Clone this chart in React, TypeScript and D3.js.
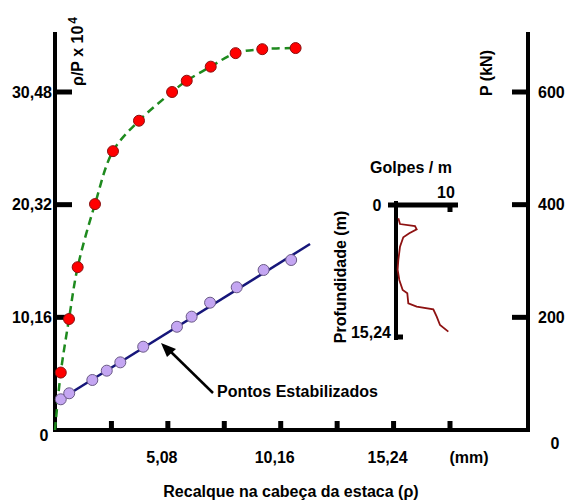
import React, { useEffect, useRef } from 'react';
import * as d3 from 'd3';

// settlement (mm) / load (kN) - curva carga x recalque
const loadSettle = [0.26, 0.63, 1.02, 1.8, 2.61, 3.78, 5.27, 5.93, 7.01, 8.13, 9.33, 10.83];
const loadValues = [102, 197, 289, 401, 495, 549, 600, 620, 645, 669, 676, 678];

// settlement (mm) / rho/P x 10^4 - pontos estabilizados
const chinSettle = [0.26, 0.64, 1.68, 2.33, 2.94, 3.97, 5.49, 6.15, 6.98, 8.18, 9.39, 10.63];
const chinValues = [2.77, 3.31, 4.51, 5.35, 6.1, 7.51, 9.31, 10.22, 11.48, 12.87, 14.43, 15.33];
const fitSettle = [0.05, 11.48];
const fitValues = [2.52, 16.77];

// SPT profile (inset)
const sptBlows = [0.43, 0.74, 3.52, 3.83, 2.46, 1.35, 0.74, 0.43, 0.3, 0.61, 1.24, 2.09, 2.28, 3.83, 6.91, 7.54, 8.15, 9.69];
const sptDepth = [1.52, 2.18, 2.41, 2.78, 3.24, 3.7, 4.78, 6.3, 7.4, 8.59, 9.74, 10.11, 11.26, 11.65, 11.95, 12.8, 13.75, 14.51];

const xTicks = [2.54, 5.08, 7.62, 10.16, 12.7, 15.24, 17.78];
const xTickLabels = ['', '5,08', '', '10,16', '', '15,24', '(mm)'];
const leftTicks = [10.16, 20.32, 30.48];
const leftTickLabels = ['10,16', '20,32', '30,48'];
const rightTicks = [200, 400, 600];

const W = 566;
const H = 502;
const FONT = '"Liberation Sans", Arial, sans-serif';

const App = () => {
  const svgRef = useRef<SVGSVGElement>(null);

  useEffect(() => {
    const svg = d3.select(svgRef.current);
    svg.selectAll('*').remove();

    const x = d3.scaleLinear().domain([0, 17.78]).range([55, 450]);
    const yL = d3.scaleLinear().domain([0, 30.48]).range([430, 92]);
    const yR = d3.scaleLinear().domain([0, 600]).range([430, 92]);
    const left = 55, right = 528, bottom = 430, top = 32;

    const g = svg.append('g');

    // frame (left, bottom, right)
    g.append('path')
      .attr('d', `M${left},${top}V${bottom}H${right}V${top}`)
      .attr('fill', 'none')
      .attr('stroke', '#000')
      .attr('stroke-width', 4);

    // left ticks
    leftTicks.forEach((t, i) => {
      g.append('line')
        .attr('x1', left).attr('x2', 72)
        .attr('y1', yL(t)).attr('y2', yL(t))
        .attr('stroke', '#000').attr('stroke-width', 5);
      g.append('text')
        .attr('x', 52).attr('y', yL(t)).attr('dy', '0.35em')
        .attr('text-anchor', 'end')
        .text(leftTickLabels[i]);
    });
    g.append('text').attr('x', 44).attr('y', 441).attr('text-anchor', 'middle').text('0');

    // right ticks
    rightTicks.forEach(t => {
      g.append('line')
        .attr('x1', 512).attr('x2', right)
        .attr('y1', yR(t)).attr('y2', yR(t))
        .attr('stroke', '#000').attr('stroke-width', 5);
      g.append('text')
        .attr('x', 538).attr('y', yR(t)).attr('dy', '0.35em')
        .text(t);
    });
    g.append('text').attr('x', 555).attr('y', 449).attr('text-anchor', 'middle').text('0');

    // bottom ticks
    xTicks.forEach((t, i) => {
      g.append('line')
        .attr('x1', x(t)).attr('x2', x(t))
        .attr('y1', bottom).attr('y2', 421)
        .attr('stroke', '#000').attr('stroke-width', 5);
      if (xTickLabels[i]) {
        g.append('text')
          .attr('x', x(t) + (i === 6 ? 19 : -6)).attr('y', 463)
          .attr('text-anchor', 'middle')
          .text(xTickLabels[i]);
      }
    });

    // axis titles
    g.append('text')
      .attr('x', 291).attr('y', 497)
      .attr('text-anchor', 'middle')
      .text('Recalque na cabeça da estaca (ρ)');

    const lt = g.append('text')
      .attr('transform', 'translate(83,86) rotate(-90)');
    lt.append('tspan').text('ρ/P x 10');
    lt.append('tspan').attr('dy', -6).attr('dx', 2).style('font-size', '12px').text('4');

    g.append('text')
      .attr('transform', 'translate(492,73) rotate(-90)')
      .attr('text-anchor', 'middle')
      .text('P (kN)');

    // load-settlement curve
    const loadPts = loadSettle.map((s, i) => [s, loadValues[i]]);
    const curve = d3.line<number[]>()
      .x(d => x(d[0]))
      .y(d => yR(d[1]))
      .curve(d3.curveCatmullRom.alpha(0.5));
    g.append('path')
      .attr('d', curve([[0, 0], ...loadPts]))
      .attr('fill', 'none')
      .attr('stroke', '#1e8a1e')
      .attr('stroke-width', 2.5)
      .attr('stroke-dasharray', '8,5');
    g.selectAll('circle.load')
      .data(loadPts)
      .enter().append('circle')
      .attr('class', 'load')
      .attr('cx', d => x(d[0]))
      .attr('cy', d => yR(d[1]))
      .attr('r', 5.5)
      .attr('fill', '#ff0000')
      .attr('stroke', '#8a1010')
      .attr('stroke-width', 1);

    // Chin line + points
    const line = d3.line<number>()
      .x(d => x(d))
      .y((d, i) => yL(fitValues[i]));
    g.append('path')
      .attr('d', line(fitSettle))
      .attr('fill', 'none')
      .attr('stroke', '#16167a')
      .attr('stroke-width', 2.5);
    g.selectAll('circle.chin')
      .data(chinSettle)
      .enter().append('circle')
      .attr('class', 'chin')
      .attr('cx', d => x(d))
      .attr('cy', (d, i) => yL(chinValues[i]))
      .attr('r', 5.5)
      .attr('fill', '#c4a6f2')
      .attr('stroke', '#6a5a86')
      .attr('stroke-width', 1);

    // arrow + annotation
    g.append('line')
      .attr('x1', 213).attr('y1', 393).attr('x2', 169).attr('y2', 350)
      .attr('stroke', '#000').attr('stroke-width', 2.5);
    g.append('path')
      .attr('d', 'M161,343 L176,349 L167,357 Z')
      .attr('fill', '#000');
    g.append('text')
      .attr('x', 217).attr('y', 397)
      .text('Pontos Estabilizados');

    // inset: SPT
    const bx = d3.scaleLinear().domain([0, 10]).range([396, 450]);
    const dy = d3.scaleLinear().domain([0, 15.24]).range([205, 338]);
    g.append('line')
      .attr('x1', 388).attr('x2', 458).attr('y1', dy(0)).attr('y2', dy(0))
      .attr('stroke', '#000').attr('stroke-width', 5);
    g.append('line')
      .attr('x1', bx(0)).attr('x2', bx(0)).attr('y1', 201).attr('y2', 340)
      .attr('stroke', '#000').attr('stroke-width', 4);
    g.append('line')
      .attr('x1', bx(10)).attr('x2', bx(10)).attr('y1', dy(0)).attr('y2', 212)
      .attr('stroke', '#000').attr('stroke-width', 5);
    g.append('line')
      .attr('x1', bx(0)).attr('x2', 403).attr('y1', dy(15.24) - 1).attr('y2', dy(15.24) - 1)
      .attr('stroke', '#000').attr('stroke-width', 5);

    const spt = d3.line<number>()
      .x(d => bx(d))
      .y((d, i) => dy(sptDepth[i]));
    g.append('path')
      .attr('d', spt(sptBlows))
      .attr('fill', 'none')
      .attr('stroke', '#8e1212')
      .attr('stroke-width', 1.8);

    g.append('text').attr('x', 411).attr('y', 173).attr('text-anchor', 'middle').text('Golpes / m');
    g.append('text').attr('x', 446).attr('y', 198).attr('text-anchor', 'middle').text('10');
    g.append('text').attr('x', 377).attr('y', dy(0)).attr('dy', '0.35em').attr('text-anchor', 'middle').text('0');
    g.append('text').attr('x', 391).attr('y', 332).attr('dy', '0.35em').attr('text-anchor', 'end').text('15,24');
    g.append('text')
      .attr('transform', 'translate(346,277) rotate(-90)')
      .attr('text-anchor', 'middle')
      .text('Profundidade (m)');
  }, []);

  return (
    <svg
      ref={svgRef}
      width={W}
      height={H}
      style={{
        position: 'absolute', left: 0, top: 0, background: '#fff',
        fontFamily: FONT, fontWeight: 'bold', fontSize: 16,
      }}
    />
  );
};

export default App;
